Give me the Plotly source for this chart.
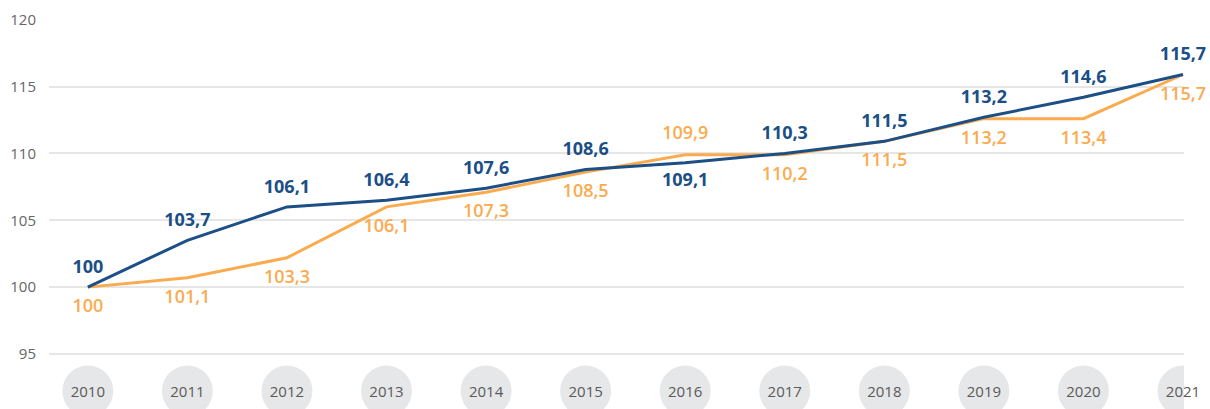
import plotly.graph_objects as go

years = ["2010", "2011", "2012", "2013", "2014", "2015", "2016", "2017", "2018", "2019", "2020", "2021"]

# line values as drawn in the picture
blue_values = [100.0, 103.5, 106.0, 106.5, 107.4, 108.8, 109.3, 110.0, 110.9, 112.7, 114.2, 115.9]
orange_values = [100.0, 100.7, 102.2, 106.0, 107.1, 108.6, 109.9, 109.9, 110.9, 112.6, 112.6, 115.9]

# value labels as printed
blue_labels = ["100", "103,7", "106,1", "106,4", "107,6", "108,6", "109,1", "110,3", "111,5", "113,2", "114,6", "115,7"]
orange_labels = ["100", "101,1", "103,3", "106,1", "107,3", "108,5", "109,9", "110,2", "111,5", "113,2", "113,4", "115,7"]

y_ticks = [95, 100, 105, 110, 115, 120]

BLUE = "#1b4f86"
ORANGE = "#fbab4f"
FONT = "Open Sans"

blue_pos = ["bottom center" if b < o else "top center" for b, o in zip(blue_values, orange_values)]
orange_pos = ["top center" if b < o else "bottom center" for b, o in zip(blue_values, orange_values)]

fig = go.Figure()
fig.add_trace(go.Scatter(
    x=years, y=orange_values, mode="lines+markers+text",
    line=dict(color=ORANGE, width=3),
    marker=dict(size=17, opacity=0, color=ORANGE),
    text=orange_labels, textposition=orange_pos,
    textfont=dict(family=FONT, size=18, color=ORANGE, weight=600),
    cliponaxis=False, showlegend=False, hoverinfo="skip",
))
fig.add_trace(go.Scatter(
    x=years, y=blue_values, mode="lines+markers+text",
    line=dict(color=BLUE, width=3),
    marker=dict(size=14, opacity=0, color=BLUE),
    text=blue_labels, textposition=blue_pos,
    textfont=dict(family=FONT, size=18, color=BLUE, weight="bold"),
    cliponaxis=False, showlegend=False, hoverinfo="skip",
))

shapes = []
for i in range(len(years)):
    shapes.append(dict(
        type="circle", xref="x", yref="paper",
        xsizemode="pixel", ysizemode="pixel",
        xanchor=i, yanchor=-0.104,
        x0=-25.5, x1=25.5, y0=-25.5, y1=25.5,
        fillcolor="#e6e7e8", line=dict(width=0), layer="below",
    ))

fig.update_layout(
    width=1210, height=409,
    margin=dict(l=49, r=26, t=19, b=53, autoexpand=False),
    paper_bgcolor="white", plot_bgcolor="white",
    font=dict(family=FONT, color="#666666", size=15),
    shapes=shapes,
    xaxis=dict(
        type="category", range=[-0.39, 11.01], automargin=False,
        showgrid=False, zeroline=False, showline=False, ticks="",
        tickfont=dict(size=15, color="#5a5a5a"),
        ticklabelstandoff=25,
    ),
    yaxis=dict(
        range=[94.85, 120.05], tickvals=y_ticks, automargin=False,
        showgrid=True, gridcolor="#e6e6e6", gridwidth=2,
        zeroline=False, showline=False, ticks="",
        tickfont=dict(size=15, color="#666666"),
        ticklabelstandoff=12,
    ),
)

fig.write_html(
    "out.html",
    config={"displayModeBar": False},
    post_script="document.body.style.margin='0';document.body.style.overflow='hidden';",
)
